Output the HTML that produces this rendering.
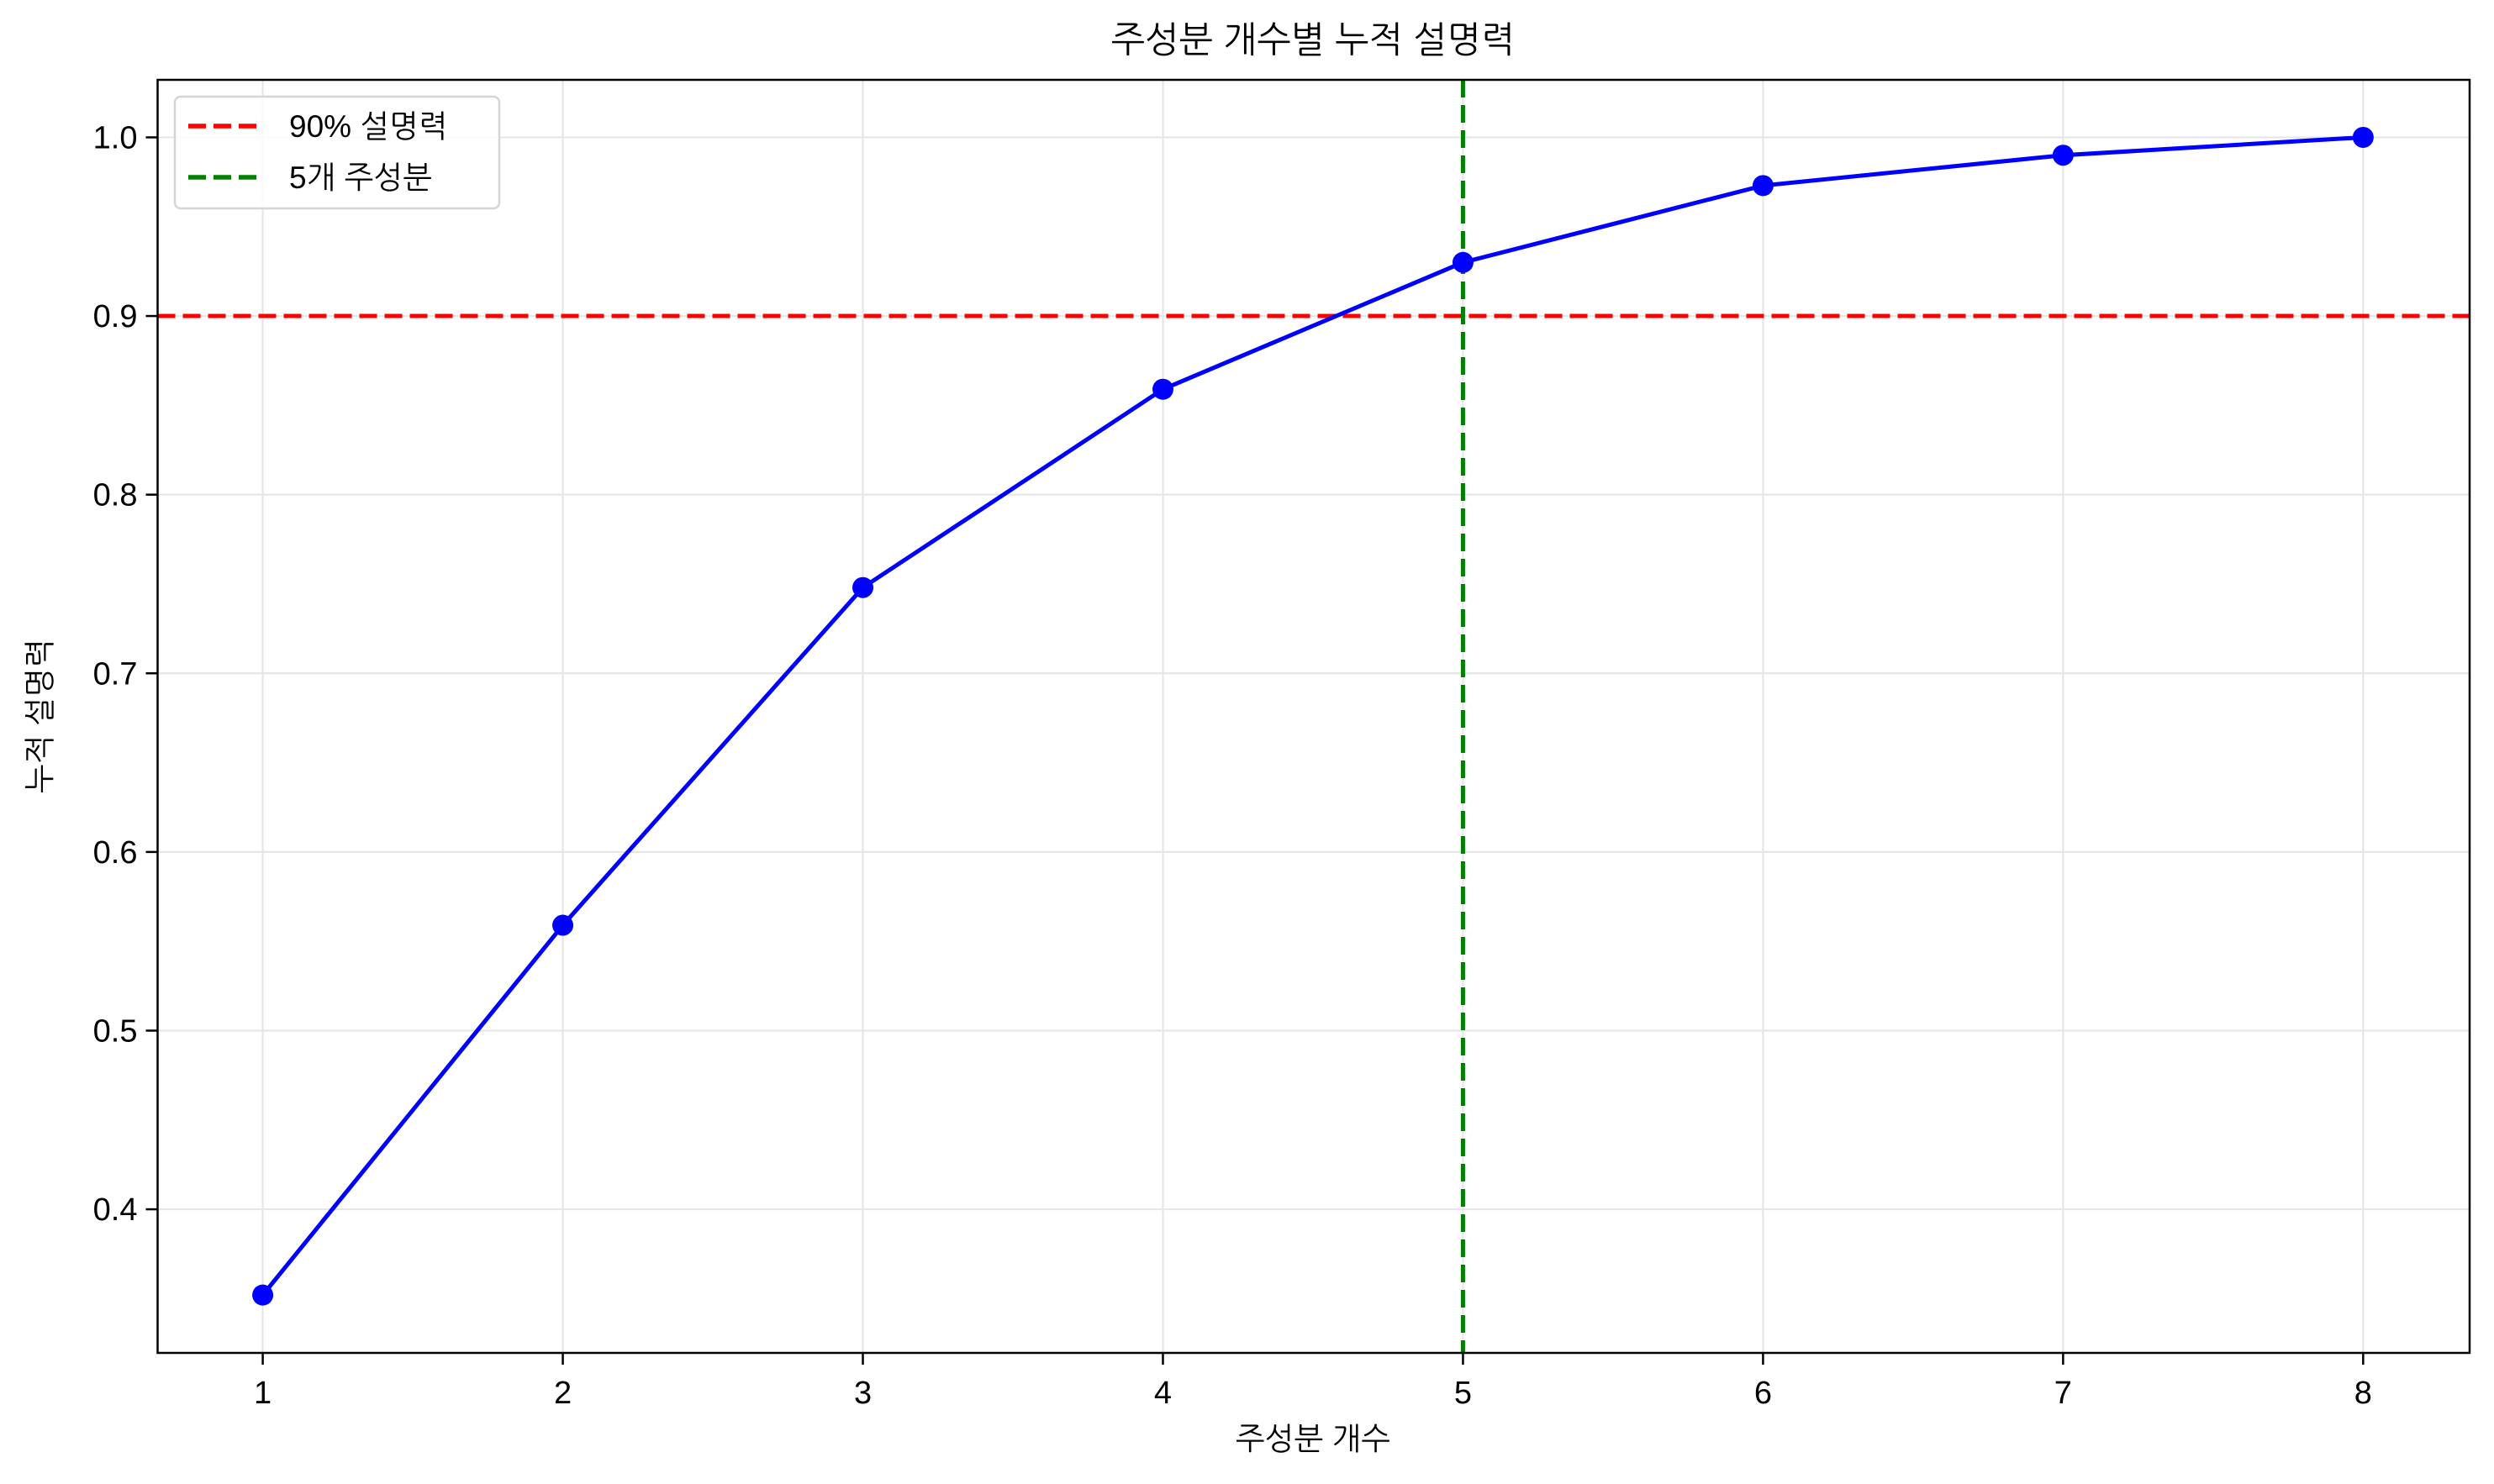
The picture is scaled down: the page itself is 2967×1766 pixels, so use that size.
<!DOCTYPE html>
<html><head><meta charset="utf-8"><style>
html,body{margin:0;padding:0;background:#fff}
svg{display:block}
text{font-family:"Liberation Sans","NanumGothic","Noto Sans CJK KR",sans-serif;fill:#000}
</style></head><body>
<svg id="chart" width="2967" height="1766" viewBox="0 0 2967 1766" xmlns="http://www.w3.org/2000/svg">
<rect x="0" y="0" width="2967" height="1766" fill="#fff"/>
<g id="grid"></g>
<g id="refs"></g>
<g id="series"></g>
<rect x="187.5" y="95" width="2750.5" height="1515" fill="none" stroke="#000" stroke-width="2.5"/>
<g id="ticks"></g>
<text x="1562" y="62" font-size="43" text-anchor="middle">주성분 개수별 누적 설명력</text>
<text x="1562" y="1725" font-size="37" text-anchor="middle">주성분 개수</text>
<text x="0" y="0" font-size="37" text-anchor="middle" transform="translate(60,852) rotate(-90)">누적 설명력</text>
<g>
<rect x="208" y="115" width="386" height="133" rx="7" fill="#fff" fill-opacity="0.8" stroke="#d5d5d5" stroke-width="2.5"/>
<line x1="224" y1="150" x2="308" y2="150" stroke="#ff0000" stroke-width="5.6" stroke-dasharray="21,9"/>
<text x="344" y="163" font-size="37">90% 설명력</text>
<line x1="224" y1="211" x2="308" y2="211" stroke="#008000" stroke-width="5.6" stroke-dasharray="21,9"/>
<text x="344" y="224" font-size="37">5개 주성분</text>
</g>
</svg>
<script>
const components = [1,2,3,4,5,6,7,8];
const cumulative = [0.352,0.559,0.748,0.859,0.930,0.973,0.990,1.0];
const yTicks = [0.4,0.5,0.6,0.7,0.8,0.9,1.0];
const yTickLabels = ["0.4","0.5","0.6","0.7","0.8","0.9","1.0"];
const xTicks = [1,2,3,4,5,6,7,8];
const thresholdY = 0.9;
const thresholdX = 5;

const L=187.5,R=2938,T=95,B=1610;
const xMin=0.6496,xMax=8.3548,yMin=0.3196,yMax=1.0322;
const sx=v=>L+(v-xMin)/(xMax-xMin)*(R-L);
const sy=v=>B-(v-yMin)/(yMax-yMin)*(B-T);
const NS="http://www.w3.org/2000/svg";
function mk(tag,attrs,parent){const e=document.createElementNS(NS,tag);for(const k in attrs)e.setAttribute(k,attrs[k]);parent.appendChild(e);return e;}
const grid=document.getElementById('grid'),ticks=document.getElementById('ticks'),refs=document.getElementById('refs'),series=document.getElementById('series');

xTicks.forEach(v=>{
  const g=mk('line',{x1:sx(v),x2:sx(v),y1:T,y2:B,stroke:'#e6e6e6','stroke-width':2.2},grid);
  
  
  const t=mk('line',{x1:sx(v),x2:sx(v),y1:B,y2:B+14,stroke:'#000','stroke-width':2.5},ticks);
  
  
  const l=mk('text',{x:sx(v),y:B+60,'font-size':38,'text-anchor':'middle'},ticks);
  l.textContent=String(v);
  
  
});
yTicks.forEach((v,i)=>{
  const g=mk('line',{x1:L,x2:R,y1:sy(v),y2:sy(v),stroke:'#e6e6e6','stroke-width':2.2},grid);
  
  
  const t=mk('line',{x1:L-14,x2:L,y1:sy(v),y2:sy(v),stroke:'#000','stroke-width':2.5},ticks);
  
  
  const l=mk('text',{x:L-24,y:sy(v)+13,'font-size':38,'text-anchor':'end'},ticks);
  l.textContent=yTickLabels[i];
  
  
});
const h=mk('line',{x1:L,x2:R,y1:sy(thresholdY),y2:sy(thresholdY),stroke:'#ff0000','stroke-width':5,'stroke-dasharray':'21,9'},refs);


const vl=mk('line',{x1:sx(thresholdX),x2:sx(thresholdX),y1:T,y2:B,stroke:'#008000','stroke-width':5,'stroke-dasharray':'21,9'},refs);


const pts=components.map((c,i)=>sx(c)+','+sy(cumulative[i])).join(' ');
const pl=mk('polyline',{points:pts,fill:'none',stroke:'#0000ff','stroke-width':5,'stroke-linejoin':'round'},series);


components.forEach((c,i)=>{
  const m=mk('circle',{cx:sx(c),cy:sy(cumulative[i]),r:12.5,fill:'#0000ff'},series);
  
  
});
</script>
</body></html>
